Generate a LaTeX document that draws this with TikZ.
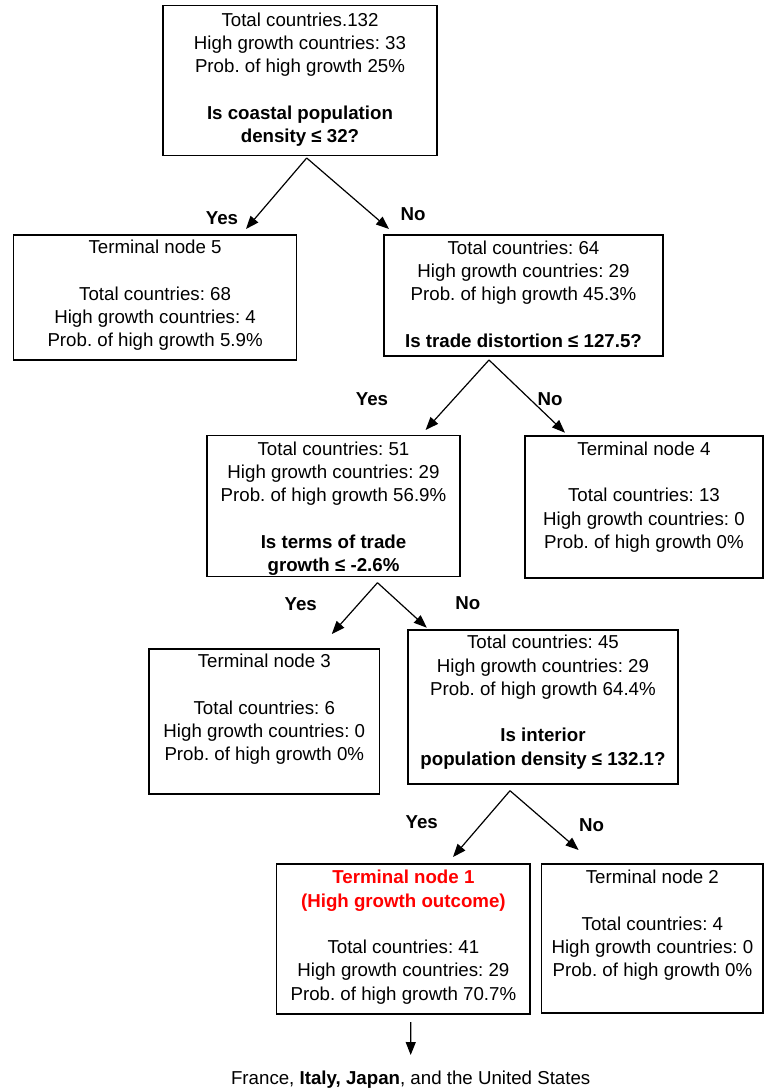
\documentclass[tikz,border=0pt]{standalone}
\usepackage{fontspec}
\setmainfont{Liberation Sans}
\usetikzlibrary{arrows.meta}
\frenchspacing
\begin{document}
\begin{tikzpicture}[x=1pt,y=-1pt,
  box/.style={draw, line width=1.2pt, inner sep=0pt, outer sep=0pt},
  txt/.style={align=center, inner sep=0pt, font=\fontsize{18.7pt}{23.3pt}\selectfont, anchor=north},
  lbl/.style={inner sep=0pt, font=\fontsize{18.7pt}{23.3pt}\selectfont\bfseries},
  arr/.style={line width=1.2pt, -{Triangle[length=13pt,width=10pt]}}]
\useasboundingbox (0,0) rectangle (767,1089);
% boxes
\node[box, minimum width=274pt, minimum height=150pt] (root) at (300,80.7) {};
\node[box, minimum width=282.8pt, minimum height=125pt] (tn5) at (155.1,297.5) {};
\node[box, minimum width=279pt, minimum height=121pt] (n64) at (523.5,295.5) {};
\node[box, minimum width=253pt, minimum height=141pt] (n51) at (333.5,506.2) {};
\node[box, minimum width=238pt, minimum height=142pt] (tn4) at (644,507) {};
\node[box, minimum width=230.6pt, minimum height=145pt] (tn3) at (264.3,721.5) {};
\node[box, minimum width=270pt, minimum height=154pt] (n45) at (543,707) {};
\node[box, minimum width=253.2pt, minimum height=150pt] (tn1) at (403.4,939) {};
\node[box, minimum width=221.2pt, minimum height=149pt] (tn2) at (652.4,938.5) {};
% texts
\node[txt] (root-t) at ([yshift=-6.6pt]root.north) {Total countries.132\\High growth countries: 33\\Prob. of high growth 25\%\\[23.3pt]\bfseries Is coastal population\\\bfseries density ≤ 32?};
\node[txt] (tn5-t) at ([yshift=-5pt]tn5.north) {Terminal node 5\\[23.3pt]Total countries: 68\\High growth countries: 4\\Prob. of high growth 5.9\%};
\node[txt] (n64-t) at ([yshift=-5.6pt]n64.north) {Total countries: 64\\High growth countries: 29\\Prob. of high growth 45.3\%\\[23.3pt]\bfseries Is trade distortion ≤ 127.5?};
\node[txt] (n51-t) at ([yshift=-5.9pt]n51.north) {Total countries: 51\\High growth countries: 29\\Prob. of high growth 56.9\%\\[23.3pt]\bfseries Is terms of trade\\\bfseries growth ≤ -2.6\%};
\node[txt] (tn4-t) at ([yshift=-5.6pt]tn4.north) {Terminal node 4\\[23.3pt]Total countries: 13\\High growth countries: 0\\Prob. of high growth 0\%};
\node[txt] (tn3-t) at ([yshift=-5pt]tn3.north) {Terminal node 3\\[23.3pt]Total countries: 6\\High growth countries: 0\\Prob. of high growth 0\%};
\node[txt] (n45-t) at ([yshift=-5pt]n45.north) {Total countries: 45\\High growth countries: 29\\Prob. of high growth 64.4\%\\[23.3pt]\bfseries Is interior\\\bfseries population density ≤ 132.1?};
\node[txt] (tn1-t) at ([yshift=-6pt]tn1.north) {\color{red}\bfseries Terminal node 1\\\color{red}\bfseries (High growth outcome)\\[23.3pt]Total countries: 41\\High growth countries: 29\\Prob. of high growth 70.7\%};
\node[txt] (tn2-t) at ([yshift=-6pt]tn2.north) {Terminal node 2\\[23.3pt]Total countries: 4\\High growth countries: 0\\Prob. of high growth 0\%};
\node[txt] (ctry) at (410.7,1071) {France, \textbf{Italy, Japan}, and the United States};
% apex coordinates
\coordinate (root-ap) at ([xshift=6.7pt,yshift=-2.3pt]root.south);
\coordinate (n64-ap) at ([xshift=-34.5pt,yshift=-4pt]n64.south);
\coordinate (n51-ap) at ([xshift=44pt,yshift=-6pt]n51.south);
\coordinate (n45-ap) at ([xshift=-33pt,yshift=-6.7pt]n45.south);
\coordinate (tn1-ap) at ([xshift=7.4pt,yshift=-8pt]tn1.south);
% tip coordinates
\coordinate (tn5-tip) at (246,229);
\coordinate (n64-tip) at (389,229);
\coordinate (n51-tip) at (425.6,430);
\coordinate (tn4-tip) at (565,432.7);
\coordinate (tn3-tip) at (331.8,634);
\coordinate (n45-tip) at (426.8,627.7);
\coordinate (tn1-tip) at (453,857);
\coordinate (tn2-tip) at (578.6,850);
\coordinate (ctry-tip) at ([yshift=16pt]ctry.north);
% arrows
\draw[arr] (root-ap) -- (tn5-tip);
\draw[arr] (root-ap) -- (n64-tip);
\draw[arr] (n64-ap) -- (n51-tip);
\draw[arr] (n64-ap) -- (tn4-tip);
\draw[arr] (n51-ap) -- (tn3-tip);
\draw[arr] (n51-ap) -- (n45-tip);
\draw[arr] (n45-ap) -- (tn1-tip);
\draw[arr] (n45-ap) -- (tn2-tip);
\draw[arr] (tn1-ap) -- (ctry-tip);
% labels
\node[lbl] (l1y) at (222,218) {Yes};
\node[lbl] (l1n) at (413,214) {No};
\node[lbl] (l2y) at (372,399) {Yes};
\node[lbl] (l2n) at (550,399) {No};
\node[lbl] (l3y) at (300.7,604) {Yes};
\node[lbl] (l3n) at (467.9,603) {No};
\node[lbl] (l4y) at (421.7,821.7) {Yes};
\node[lbl] (l4n) at (591.7,825) {No};
\end{tikzpicture}
\end{document}
